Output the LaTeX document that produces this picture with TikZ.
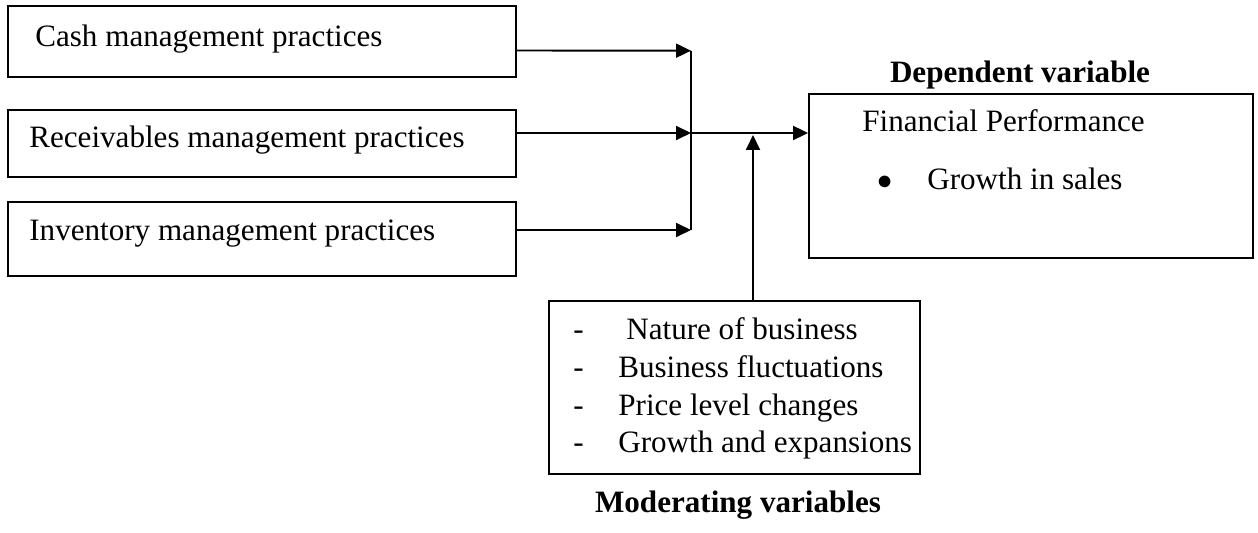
\documentclass[tikz,border=0pt]{standalone}
\usepackage{fontspec}
\setmainfont{Liberation Serif}
\usetikzlibrary{arrows.meta}

\begin{document}
\begin{tikzpicture}[x=0.02cm,y=-0.02cm,
	font=\fontsize{17.7}{21}\selectfont,
	box/.style={draw, line width=1.1pt, inner sep=0pt},
	txt/.style={anchor=base west, inner sep=0pt},
	link/.style={line width=1.1pt, -{Triangle[length=0.3cm,width=0.28cm]}}]
	\useasboundingbox (0,0) rectangle (1258,533);
	% independent variables
	\node[box, minimum width=10.16cm, minimum height=1.42cm] (cash) at (262,41.5) {};
	\node[box, minimum width=10.16cm, minimum height=1.34cm] (recv) at (262,143.5) {};
	\node[box, minimum width=10.16cm, minimum height=1.48cm] (inv) at (262,239) {};
	\node[txt] (cashtxt) at (35,47) {Cash management practices};
	\node[txt] (recvtxt) at (29,148) {Receivables management practices};
	\node[txt] (invtxt) at (29,241) {Inventory management practices};
	% dependent variable
	\node[box, minimum width=8.88cm, minimum height=3.28cm] (perf) at (1031,176) {};
	\node[anchor=base, inner sep=0pt] (perfhead) at (1020,83) {\textbf{Dependent variable}};
	\node[txt] (perftxt) at (862,132) {Financial Performance};
	\node[inner sep=0pt] (dot) at (885,183) {$\bullet$};
	\node[txt] (sales) at (927,190) {Growth in sales};
	% moderating variables
	\node[box, minimum width=7.42cm, minimum height=3.46cm] (mod) at (734.5,387.5) {};
	\foreach \y/\t [count=\i] in {340/{\hspace{0.16cm}Nature of business},378/Business fluctuations,416/Price level changes,453/Growth and expansions}{
		\node[txt] (dash\i) at (573,\y) {-};
		\node[txt] (mod\i) at (618,\y) {\t};
	}
	\node[anchor=base, inner sep=0pt] (modhead) at (738,513) {\textbf{Moderating variables}};
	% connectors
	\coordinate (j1) at (691,50.7);
	\coordinate (j2) at (691,133);
	\coordinate (j3) at (691,230);
	\coordinate (m) at (753,135);
	\draw[line width=1.1pt] (j1) -- (j3);
	\draw[link] ([yshift=-0.18cm]cash.east) -- (j1);
	\draw[link] ([yshift=0.21cm]recv.east) -- (j2);
	\draw[link] ([yshift=0.18cm]inv.east) -- (j3);
	\draw[link] (j2) -- (j2 -| perf.west);
	\draw[link] (m |- mod.north) -- (m);
\end{tikzpicture}
\end{document}
